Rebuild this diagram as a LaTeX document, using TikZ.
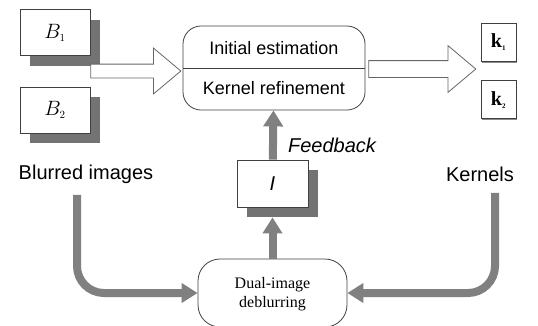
\documentclass[tikz,border=0pt]{standalone}
\usepackage{fontspec}
\setmainfont{Liberation Sans}
\newfontfamily\serifface{Liberation Serif}
\usepackage{tikz}
\usetikzlibrary{arrows.meta,positioning,shapes.arrows,shadows,calc}

\begin{document}
\begin{tikzpicture}[x=1pt, y=-1pt,
  imgbox/.style={draw=black!75, line width=0.8pt, fill=white, minimum width=70pt, minimum height=46pt, inner sep=0pt,
    font=\fontsize{21}{24}\selectfont, drop shadow={shadow xshift=10pt, shadow yshift=-10pt, fill=black!55, opacity=1}},
  kbox/.style={draw=black!75, line width=0.8pt, fill=white, minimum width=35pt, minimum height=38pt, inner sep=0pt,
    font=\serifface\bfseries\fontsize{20}{22}\selectfont, drop shadow={shadow xshift=1.2pt, shadow yshift=-1.5pt, fill=black!45, opacity=1}},
  procbox/.style={draw=black!75, line width=0.8pt, fill=white, inner sep=0pt},
  hollow/.style={single arrow, draw=black!60, line width=0.8pt, fill=white, inner xsep=0pt, anchor=tail, single arrow tip angle=80},
  flow/.style={draw=black!50, line width=8pt, -{Triangle[length=16pt, width=19pt]}},
  lbl/.style={font=\fontsize{20}{24}\selectfont}
]
\useasboundingbox (0,0) rectangle (538,325);

% inputs
\node[imgbox] (B1) at (55,32.5) {$B_{\scriptscriptstyle 1}$};
\node[imgbox, below=31pt of B1] (B2) {$B_{\scriptscriptstyle 2}$};
\node[lbl] (blurred) at (86,174) {Blurred images};

% kernel estimation
\node[procbox, rounded corners=18pt, minimum width=182pt, minimum height=84pt] (est) at (274,68) {};
\draw[draw=black!75, line width=0.8pt] (est.west) -- (est.east);
\node[font=\fontsize{18}{20}\selectfont] (init) at ($(est.center)+(0,-20)$) {Initial estimation};
\node[font=\fontsize{18}{20}\selectfont] (refine) at ($(est.center)+(0,20)$) {Kernel refinement};

% outputs
\node[kbox] (k1) at (498.5,42) {k\textsubscript{\scriptsize 1}};
\node[kbox, below=19pt of k1] (k2) {k\textsubscript{\scriptsize 2}};
\node[lbl] (kernels) at (480,174) {Kernels};

% hollow arrows
\node[hollow, inner ysep=6.5pt, single arrow head extend=16pt, minimum height=90pt] (inarr) at ([yshift=-3pt]B1.east |- est.west) {};
\node[hollow, inner ysep=8pt, single arrow head extend=15pt, minimum height=107pt] (outarr) at ([xshift=3pt, yshift=-1pt]est.east) {};

% latent image and deblurring
\node[imgbox, minimum width=71pt, minimum height=47pt, font=\fontsize{20}{24}\selectfont\itshape] (I) at (272.5,183.5) {I};
\node[lbl, font=\fontsize{20}{24}\selectfont\itshape] (feedback) at (332,145) {Feedback};
\node[procbox, rounded corners=22pt, minimum width=149pt, minimum height=68pt] (dual) at (272.5,293) {};
\node[font=\serifface\fontsize{16}{19}\selectfont, align=center] (dualtxt) at ([yshift=-1.5pt]dual.center) {Dual-image\\deblurring};

% flows
\draw[flow] (I) -- (est);
\draw[flow, shorten >=10pt] (dual) -- (I);
\draw[flow, rounded corners=27pt, shorten <=8pt] ([xshift=-9pt]blurred.south) |- (dual.west);
\draw[flow, rounded corners=27pt, shorten <=8pt] ([xshift=15pt]kernels.south) |- (dual.east);
\end{tikzpicture}
\end{document}
